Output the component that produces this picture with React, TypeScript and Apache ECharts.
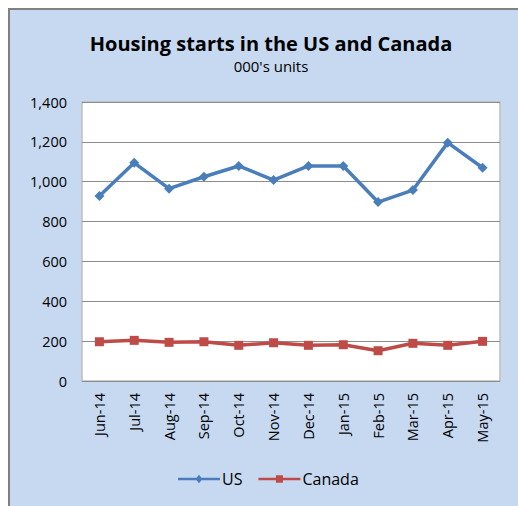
import React, { useEffect, useRef } from "react";
import * as echarts from "echarts";

const categories = ["Jun-14", "Jul-14", "Aug-14", "Sep-14", "Oct-14", "Nov-14", "Dec-14", "Jan-15", "Feb-15", "Mar-15", "Apr-15", "May-15"];
const usValues = [928, 1095, 965, 1025, 1079, 1008, 1079, 1079, 898, 958, 1196, 1070];
const canadaValues = [197, 204, 194, 197, 179, 192, 179, 182, 152, 189, 179, 199];
const titleText = "Housing starts in the US and Canada";
const subtitleText = "000's units";

export default function App() {
  const ref = useRef<HTMLDivElement>(null);
  useEffect(() => {
    if (!ref.current) return;
    const chart = echarts.init(ref.current, null, { renderer: "svg" });
    const font = "Open Sans, sans-serif";
    const usIcon = "path://M0,4 L42,4 L42,6.5 L0,6.5 Z M21,1 L24.5,5.25 L21,9.5 L17.5,5.25 Z";
    const caIcon = "path://M0,4 L42,4 L42,6.5 L0,6.5 Z M17.5,1.5 L24.5,1.5 L24.5,9 L17.5,9 Z";
    chart.setOption({
      animation: false,
      graphic: [
        {
          type: "rect",
          shape: { x: 9, y: 9, width: 520, height: 510 },
          style: { fill: "#C6D9F1", stroke: "#808080", lineWidth: 2 },
          z: -10,
        },
        {
          type: "rect",
          shape: { x: 82, y: 102, width: 418, height: 279 },
          style: { fill: "#FFFFFF", stroke: "#BFBFBF", lineWidth: 1.5 },
          z: -5,
        },
      ],
      title: {
        text: titleText,
        subtext: subtitleText,
        left: 266,
        textAlign: "center",
        top: 28,
        itemGap: 5,
        textStyle: { fontFamily: font, fontSize: 20, fontWeight: "bold", color: "#000" },
        subtextStyle: { fontFamily: font, fontSize: 15, color: "#000" },
      },
      legend: {
        top: 466,
        left: 173,
        itemWidth: 42,
        itemHeight: 10,
        itemGap: 16,
        textStyle: { fontFamily: font, fontSize: 16, color: "#000", padding: [0, 0, 0, -3] },
        data: [
          { name: "US", icon: usIcon },
          { name: "Canada", icon: caIcon },
        ],
      },
      grid: { left: 82, top: 102, right: 18, bottom: 125 },
      xAxis: {
        type: "category",
        data: categories,
        boundaryGap: true,
        axisLine: { show: false },
        axisTick: { show: false },
        axisLabel: { rotate: 90, margin: 12, fontFamily: font, fontSize: 14.5, color: "#000", interval: 0 },
      },
      yAxis: {
        type: "value",
        min: 0,
        max: 1400,
        interval: 200,
        axisLine: { show: false },
        axisTick: { show: false },
        splitLine: { lineStyle: { color: "#8C8C8C", width: 1 } },
        axisLabel: {
          margin: 15,
          fontFamily: font,
          fontSize: 14.5,
          color: "#000",
          formatter: (v: number) => v.toLocaleString("en-US"),
        },
      },
      series: [
        {
          name: "US",
          type: "line",
          data: usValues,
          symbol: "diamond",
          symbolSize: 10,
          lineStyle: { color: "#4A7EBB", width: 3.5 },
          itemStyle: { color: "#4A7EBB" },
        },
        {
          name: "Canada",
          type: "line",
          data: canadaValues,
          symbol: "rect",
          symbolSize: 9,
          lineStyle: { color: "#BE4B48", width: 3.5 },
          itemStyle: { color: "#BE4B48" },
        },
      ],
    });
    return () => chart.dispose();
  }, []);
  return <div ref={ref} style={{ position: "absolute", left: 0, top: 0, width: 518, height: 506 }} />;
}
